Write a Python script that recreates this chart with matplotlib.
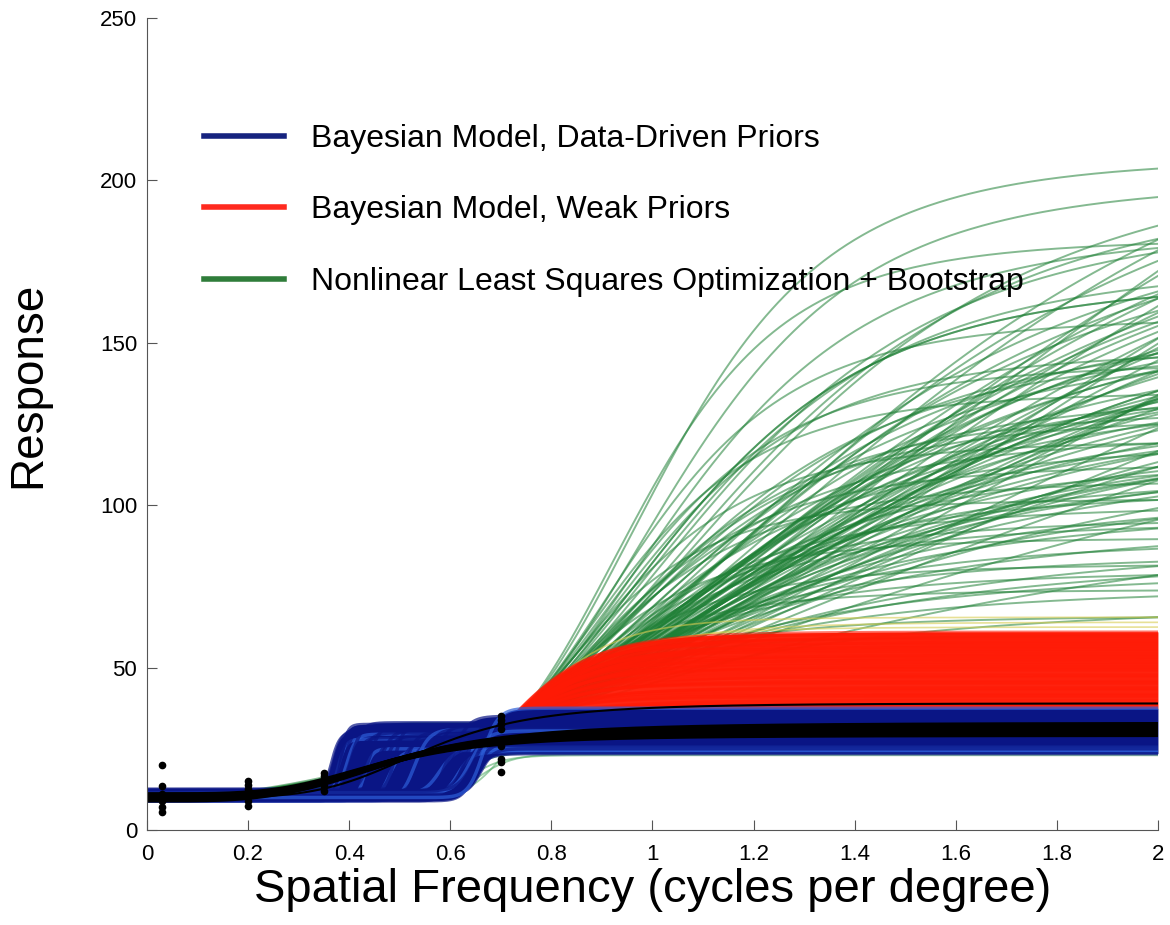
import numpy as np
import matplotlib
matplotlib.use('Agg')
import matplotlib.pyplot as plt
from matplotlib.lines import Line2D

plt.rcParams['font.family'] = ['Liberation Sans', 'DejaVu Sans']

# observed responses at the four tested frequencies
dot_x = [0.03] * 7 + [0.2] * 6 + [0.35] * 5 + [0.7] * 8
dot_y = [20, 13.5, 11, 10, 9, 7, 5.5,
         15, 14, 12.5, 11, 9, 7.5,
         17.5, 16.5, 15, 13.5, 12,
         35, 34, 32.5, 31, 26, 22, 21, 18]

# bootstrap fits (nonlinear least squares): amplitude and exponent of each curve
green_amp = [197, 190, 172, 160, 148, 138, 118, 110, 103, 92, 86, 80, 72, 64, 56, 50, 175, 134, 125, 98,
             200, 180, 160, 150, 140, 130, 120, 110, 100, 90, 80, 70, 190, 165, 145, 125, 105, 95, 85, 75,
             112, 142,
             250, 220, 200, 180, 170, 150, 140, 130, 120, 110, 100, 90, 80, 70, 60, 235, 190, 160, 155, 135,
             115, 105, 85, 75, 145, 125, 95, 65,
             215, 205, 195, 185, 175, 168, 158, 152, 146, 138, 132, 126, 118, 112, 108,
             240, 228, 212, 198, 186, 174, 162, 156, 144, 136, 128, 122, 116,
             400, 350, 300, 300, 250, 250, 200, 200, 150, 150, 120, 100, 380, 330, 280, 270, 230, 215, 180,
             165, 135, 260, 210, 175]
green_n = [6, 5.5, 6.5, 5, 6, 5.5, 5, 6, 5.5, 6.5, 5, 6, 5.5, 6, 5, 6, 5.2, 5.8, 6.2, 5.4,
           4, 4.5, 5, 4, 4.5, 4, 5, 4.5, 4, 5, 4, 4.5, 4.2, 4.8, 4.3, 4.6, 4.1, 4.4, 4.7, 4.2,
           4.9, 4.1,
           3, 3, 3, 3.5, 3, 3, 3.5, 3, 3.5, 3, 3, 3.5, 3, 3.5, 3, 3.2, 3.4, 3.3, 3.1, 3.6,
           3.2, 3.4, 3.3, 3.1, 3.5, 3.2, 3.4, 3.6,
           3.3, 2.9, 3.1, 3.6, 2.8, 3.3, 3.0, 3.7, 2.9, 3.4, 3.1, 3.8, 3.0, 3.5, 3.2,
           2.6, 2.9, 2.7, 3.1, 2.8, 3.2, 2.9, 3.4, 3.0, 3.3, 2.7, 3.5, 3.1,
           2, 2.5, 2.5, 2, 2.5, 2, 2.5, 2, 2.5, 2, 2.5, 2, 2.2, 2.3, 2.7, 2.2, 2.8, 2.4, 2.6,
           2.3, 2.7, 2.4, 2.6, 2.8]
# bootstrap fits that stay low
green_low_top = [33, 32, 24, 23.5, 25, 34, 23]
green_low_c = [0.40, 0.45, 0.62, 0.66, 0.55, 0.70, 0.64]
# pale fits just above the weak-prior band
pale_top = [62.5, 64, 65.5]
pale_n = [8, 7, 9]

# weak priors: plateau and exponent of each posterior sample
red_top = [61, 60.5, 60, 59.5, 59, 58.5, 58, 57.5, 57, 56.5, 56, 55.5, 55, 54.5, 54, 53.5, 53, 52.5,
           52, 51.5, 51, 50.5, 50, 49.5, 49, 48, 47.5, 47, 46, 45.5, 45, 44, 43.5, 43, 42, 41.5,
           41, 40, 39, 38.5, 37.5]
red_n = [9, 8, 9.5, 7.5, 8.5, 9, 7, 10, 8, 7.5, 9, 8, 9.5, 8, 7, 9, 8.5, 7.5,
         10, 8, 8.5, 7, 9, 9.5, 8, 8.5, 7, 9, 8, 8.5, 9.5, 7.5, 8.5, 8, 9, 8,
         8.5, 7, 8, 8.5, 7.5]

# data-driven priors: baseline, plateau, step position and steepness of each posterior sample
blue_c = [0.365, 0.368, 0.372, 0.375, 0.378, 0.38, 0.383, 0.386, 0.39, 0.395, 0.40, 0.405,
          0.41, 0.42, 0.43, 0.44, 0.45, 0.46, 0.47, 0.48, 0.49, 0.50, 0.51, 0.52, 0.53, 0.54,
          0.55, 0.56, 0.57, 0.58, 0.59, 0.60, 0.605, 0.61, 0.615, 0.62, 0.625, 0.63, 0.635,
          0.64, 0.645, 0.65, 0.655, 0.66, 0.665]
blue_top = [30, 31, 29, 32, 28, 30.5, 32.5, 27, 31.5, 29.5, 26, 33, 28.5, 30, 25, 32.5, 27.5, 31,
            29, 24.5, 32, 28, 30, 26.5, 31, 29, 31, 27, 32, 25.5, 30, 28, 35, 29.5, 24, 31.5,
            26, 34, 28.5, 30.5, 23.5, 27, 35.5, 25, 37.5]
blue_base = [11, 10, 12, 9.5, 10.5, 11.5, 9, 12.5, 10, 11, 9.5, 12, 10.5, 11, 9, 12, 10, 11.5,
             10.5, 9.5, 12, 11, 10, 12.5, 9, 11, 10.5, 12, 9.5, 11, 10, 12, 11.5, 9, 10.5, 11,
             12, 9.5, 10, 11.5, 10.5, 9, 12, 11, 10]
blue_n = [45, 40, 55, 38, 50, 42, 60, 35, 48, 44, 52, 40, 46, 38, 55, 42, 50, 36, 48, 44,
          58, 40, 46, 52, 38, 45, 50, 42, 55, 36, 48, 44, 40, 52, 46, 38, 50, 42, 56, 40,
          44, 48, 36, 52, 45]

# best-fit curves
black_base = [10, 10.8, 9.3, 10.2, 10]
black_top = [31, 29.5, 32.5, 30.5, 39]
black_c = [0.47, 0.46, 0.48, 0.47, 0.55]
black_n = [4, 4.2, 3.8, 4.5, 5]


def Hill(x, base, amp, c, n):
    return base + amp * x ** n / (x ** n + c ** n)


x = np.linspace(0, 2, 800)

fig = plt.figure(figsize=(11.7, 9.25), dpi=100)
ax = fig.add_axes([0.1256, 0.1027, 0.8641, 0.8778])

# green: every fit leaves the data near (0.72, 32)
for i in range(len(green_amp)):
    a = green_amp[i]
    n = green_n[i]
    c = 0.72 * ((a - 22) / 22) ** (1 / n)
    ax.plot(x, Hill(x, 10, a, c, n), color='#1f8036', alpha=0.55, lw=1.4)
for i in range(len(green_low_top)):
    ax.plot(x, Hill(x, 10, green_low_top[i] - 10, green_low_c[i], 20),
            color='#4aa860', alpha=0.55, lw=1.3)
for i in range(len(pale_top)):
    a = pale_top[i] - 10
    c = 0.72 * ((a - 22) / 22) ** (1 / pale_n[i])
    ax.plot(x, Hill(x, 10, a, c, pale_n[i]), color='#d8cc50', alpha=0.6, lw=1.2)

# red: every sample passes near (0.7, 31)
red_curves = []
for i in range(len(red_top)):
    a = red_top[i] - 10
    n = red_n[i]
    c = 0.7 * ((a - 21) / 21) ** (1 / n)
    red_curves.append(Hill(x, 10, a, c, n))
red_curves = np.array(red_curves)
ax.fill_between(x, red_curves.min(axis=0), red_curves.max(axis=0), color='#ff1a05',
                alpha=0.95, lw=0, zorder=2)
for y in red_curves:
    ax.plot(x, y, color='#ff1a05', alpha=0.6, lw=2)

blue_curves = []
for i in range(len(blue_c)):
    blue_curves.append(Hill(x, blue_base[i], blue_top[i] - blue_base[i], blue_c[i], blue_n[i]))
blue_curves = np.array(blue_curves)
ax.fill_between(x, blue_curves.min(axis=0), blue_curves.max(axis=0), color='#0a1585', lw=0, zorder=2)
for i in range(len(blue_curves)):
    col = '#2d5ed8' if i % 5 == 4 else '#0a1585'
    ax.plot(x, blue_curves[i], color=col, alpha=0.7, lw=2.5)

for i in range(len(black_top)):
    ax.plot(x, Hill(x, black_base[i], black_top[i] - black_base[i], black_c[i], black_n[i]),
            color='black', lw=4 if i < 4 else 1.5)

ax.plot(dot_x, dot_y, 'o', color='black', markersize=4.5, zorder=5)

ax.set_xlim(0, 2)
ax.set_ylim(0, 250)
ax.set_xticks(np.arange(0, 2.01, 0.2))
ax.set_xticklabels(['0', '0.2', '0.4', '0.6', '0.8', '1', '1.2', '1.4', '1.6', '1.8', '2'])
ax.set_yticks(np.arange(0, 251, 50))
ax.spines['top'].set_visible(False)
ax.spines['right'].set_visible(False)
for s in ['left', 'bottom']:
    ax.spines[s].set_color('#555555')
ax.tick_params(direction='in', length=7, labelsize=16, colors='#555555', labelcolor='black')
ax.tick_params(axis='x', pad=10)
ax.tick_params(axis='y', pad=7)

ax.set_xlabel('Spatial Frequency (cycles per degree)', fontsize=34, labelpad=2)
ax.set_ylabel('Response', fontsize=33)
ax.yaxis.set_label_coords(-0.096, 0.548)

handles = [Line2D([], [], color='#16237f', lw=4),
           Line2D([], [], color='#ff2a1f', lw=4),
           Line2D([], [], color='#2f7d3a', lw=4)]
labels = ['Bayesian Model, Data-Driven Priors',
          'Bayesian Model, Weak Priors',
          'Nonlinear Least Squares Optimization + Bootstrap']
ax.legend(handles, labels, loc='upper left', bbox_to_anchor=(0.028, 0.905), frameon=False,
          fontsize=23, handlelength=2.5, handletextpad=0.85, labelspacing=1.3)

fig.savefig('out.png', dpi=100)
